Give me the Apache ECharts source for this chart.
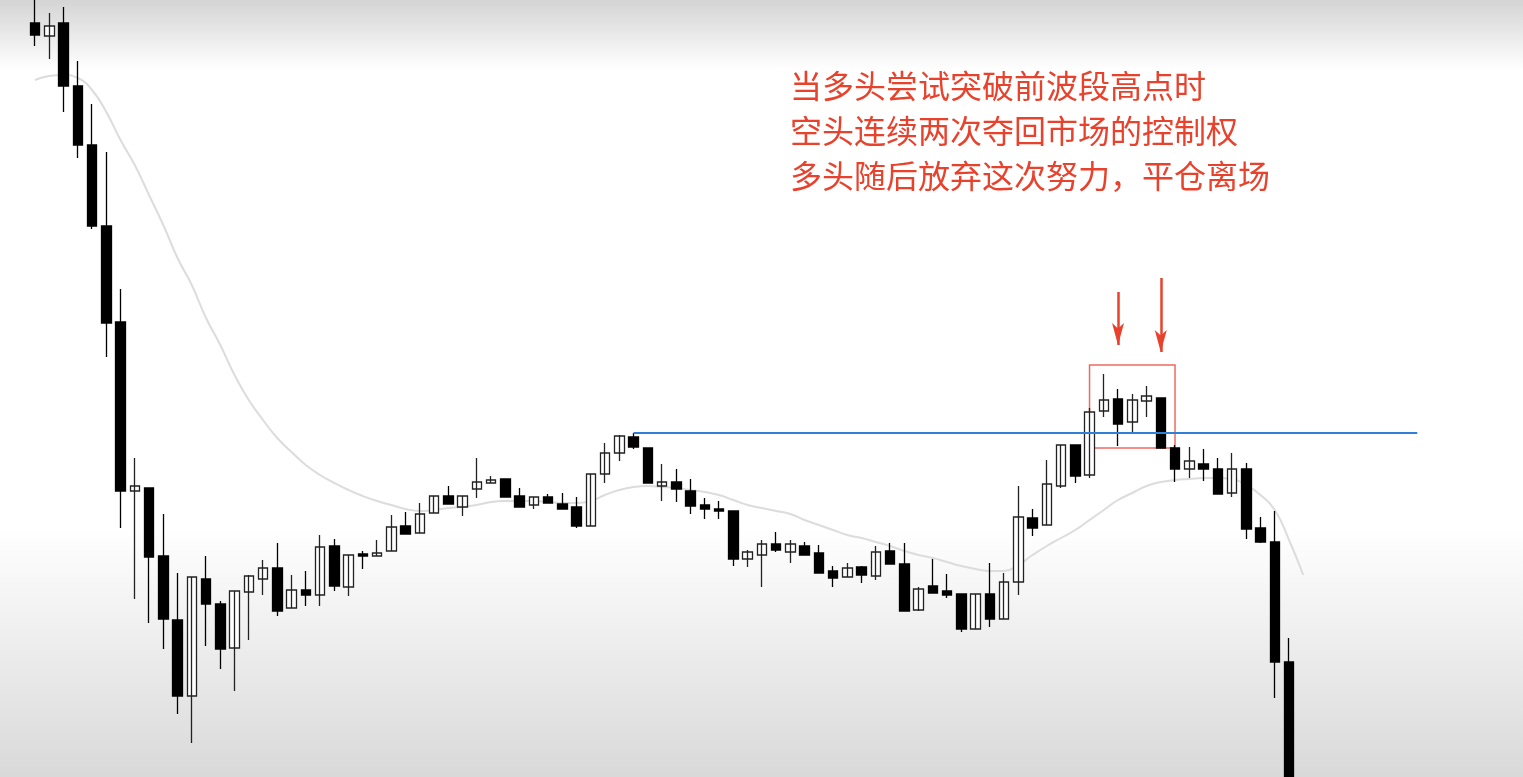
<!DOCTYPE html>
<html lang="zh">
<head>
    <meta charset="UTF-8">
    <title>K线</title>
    <script src="https://cdn.jsdelivr.net/npm/echarts@6/dist/echarts.min.js"></script>
    <style>
        html, body { margin: 0; padding: 0; }
        #main { width: 1523px; height: 777px; }
    </style>
</head>
<body>
    <div id="main"></div>
    <script>
        // levels: 0 = top edge, larger = lower (axis is inverted)
        // each candle: [open, close, low, high]
        var candles = [
            [23,35,46,0], [36,26,59,13], [23,86,112,7], [86,145,158,61], [145,226,229,104],
            [226,323,357,152], [322,491,528,289], [491,486,599,458], [488,557,623,488], [556,619,649,514],
            [620,696,714,573], [696,577,743,577], [579,604,646,556], [604,649,669,601], [648,591,691,591],
            [592,576,640,575], [579,568,595,560], [568,611,616,543], [608,590,608,575], [590,595,606,571],
            [595,547,606,535], [546,586,591,539], [587,555,596,555], [554,556,569,551], [556,553,556,540],
            [551,527,551,515], [526,534,534,512], [533,514,533,503], [513,496,513,496], [496,504,504,486],
            [507,496,516,496], [489,482,498,458], [483,480,483,476], [479,497,497,479], [496,507,507,488],
            [505,497,509,497], [497,503,503,494], [504,509,509,493], [507,526,528,497], [526,474,526,474],
            [474,453,483,443], [453,436,461,435], [437,447,449,433], [448,483,483,448], [486,482,501,464],
            [482,489,502,469], [491,506,514,479], [505,509,519,498], [509,511,519,501], [511,559,566,511],
            [559,552,567,550], [555,544,587,540], [544,550,552,532], [552,544,563,540], [546,555,555,542],
            [553,573,573,545], [571,578,587,566], [577,568,577,563], [567,575,583,566], [576,552,580,546],
            [551,564,564,543], [564,611,611,543], [610,589,611,587], [586,593,593,559], [591,595,598,574],
            [594,629,632,594], [629,594,629,594], [594,619,627,563], [619,582,619,573], [582,517,595,486],
            [518,528,536,509], [525,484,525,460], [486,445,488,445], [445,476,483,445], [475,412,478,408],
            [411,400,417,374], [399,424,446,389], [422,400,433,394], [401,396,417,386], [398,448,448,398],
            [448,469,482,445], [469,461,478,447], [464,469,481,449], [469,494,494,458], [493,469,497,453],
            [469,529,539,463], [528,542,543,517], [542,662,698,511], [662,800,800,638]
        ];

        var maLine = [
            80, 76, 75, 78, 90, 112, 140, 165, 195, 225,
            258, 285, 318, 345, 375, 400, 420, 438, 452, 465,
            475, 483, 490, 496, 501, 505, 509, 511, 510, 508,
            507, 505, 502, 501, 501, 501, 502, 503, 503, 501,
            495, 490, 487, 486, 487, 488, 490, 492, 495, 500,
            505, 508, 511, 514, 520, 525, 530, 535, 538, 542,
            546, 551, 555, 558, 562, 566, 569, 571, 571, 565,
            555, 546, 538, 530, 520, 510, 500, 493, 486, 482,
            480, 479, 478, 478, 479, 485, 495, 510, 540, 575
        ];

        var prevHigh = 433;      // blue line level
        var prevHighFrom = 42;   // candle where it starts
        var lineEnd = 97;
        var boxFrom = 74, boxTo = 79, boxTop = 365, boxBottom = 448;
        var arrows = [[76, 292, 345], [79, 278, 352]];

        var noteLines = ['当多头尝试突破前波段高点时', '空头连续两次夺回市场的控制权', '多头随后放弃这次努力，平仓离场'];

        var categories = [];
        for (var i = 0; i <= lineEnd; i++) categories.push(i);

        var chart = echarts.init(document.getElementById('main'));

        chart.setOption({
            backgroundColor: {
                type: 'linear', x: 0, y: 0, x2: 0, y2: 1,
                colorStops: [
                    { offset: 0, color: '#d4d4d4' },
                    { offset: 0.09, color: '#ffffff' },
                    { offset: 0.68, color: '#ffffff' },
                    { offset: 1, color: '#d9d9d9' }
                ]
            },
            animation: false,
            title: {
                text: noteLines.join('\n'),
                left: 785, top: 58,
                textStyle: {
                    color: '#e8412c', fontSize: 32, fontWeight: 'normal',
                    lineHeight: 45, fontFamily: 'Noto Sans CJK SC'
                }
            },
            grid: { left: 27.9, top: 0, width: categories.length * 14.25, height: 777 },
            xAxis: { type: 'category', data: categories, show: false },
            yAxis: { type: 'value', min: 0, max: 777, inverse: true, show: false },
            series: [
                {
                    type: 'line',
                    data: maLine,
                    symbol: 'none',
                    smooth: true,
                    lineStyle: { color: '#dcdcdc', width: 2 },
                    z: 1
                },
                {
                    type: 'candlestick',
                    data: candles,
                    barWidth: 10,
                    // inverted axis: "up" means the body goes down the screen, which is a falling bar
                    itemStyle: {
                        color: '#000', borderColor: '#000',
                        color0: '#fff', borderColor0: '#222',
                        borderWidth: 1.3
                    },
                    z: 3,
                    markLine: {
                        silent: true,
                        symbol: 'none',
                        label: { show: false },
                        lineStyle: { color: '#2f7fd6', width: 2, type: 'solid' },
                        data: [[
                            { coord: [prevHighFrom, prevHigh] },
                            { coord: [lineEnd, prevHigh] }
                        ]].concat(arrows.map(function (a) {
                            return [
                                { coord: [a[0], a[1]], symbol: 'none' },
                                {
                                    coord: [a[0], a[2]], symbol: 'arrow', symbolSize: [9, 22],
                                    lineStyle: { color: '#e8412c', width: 2.5, type: 'solid' }
                                }
                            ];
                        }))
                    },
                    markArea: {
                        silent: true,
                        itemStyle: {
                            color: 'rgba(0,0,0,0)', borderColor: '#ee6a60', borderWidth: 1.5,
                            borderRadius: 3
                        },
                        data: [[
                            { coord: [boxFrom, boxTop] },
                            { coord: [boxTo + 1, boxBottom] }
                        ]]
                    }
                }
            ]
        });
    </script>
</body>
</html>
